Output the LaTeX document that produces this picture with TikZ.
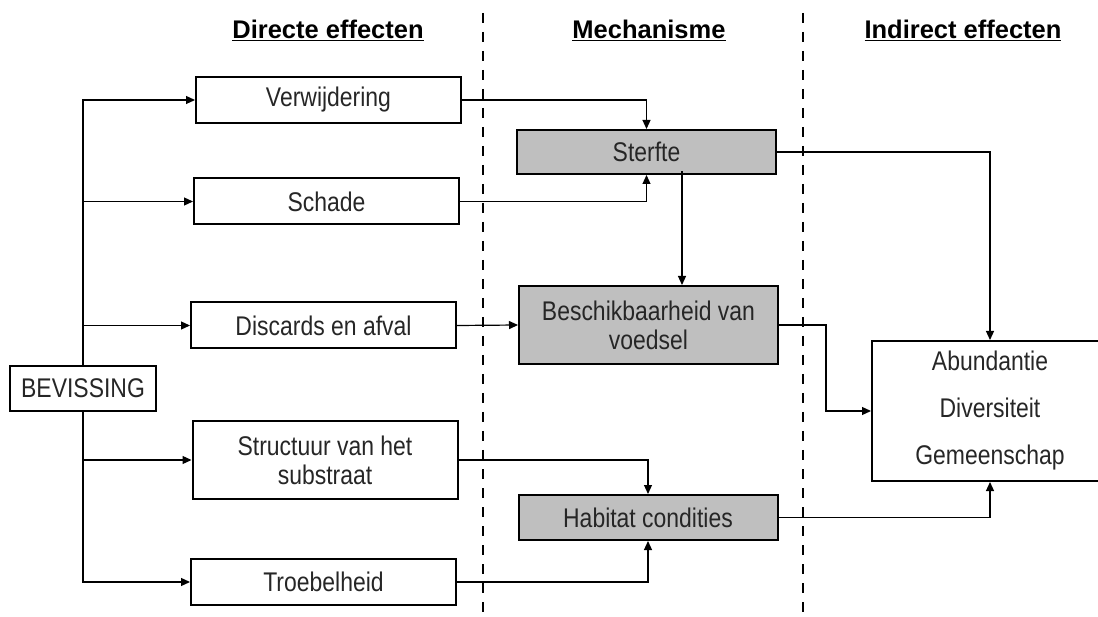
\documentclass[tikz,border=0pt]{standalone}
\usepackage{fontspec}
\setmainfont[FakeStretch=0.85]{Liberation Sans}
\newfontfamily\kopfont{Liberation Sans}
\usetikzlibrary{arrows.meta}

\tikzset{
  effect/.style={draw, line width=2pt, minimum width=265pt, minimum height=46pt,
    inner sep=0pt, align=center, text=black!85, font=\fontsize{27}{29}\selectfont},
  mech/.style={effect, fill=gray!50, minimum width=259pt},
  kop/.style={font=\kopfont\fontsize{25.5}{28}\selectfont\bfseries},
  divider/.style={line width=2.4pt, dash pattern=on 10pt off 9pt},
  link/.style={line width=1.2pt, -{Triangle[length=9pt,width=8pt]}}
}

\begin{document}
\begin{tikzpicture}[x=1pt,y=-1pt]
\useasboundingbox (0,0) rectangle (1098,617);

% headings and dividers
\node[kop] (hdir) at (328,30) {\underline{Directe effecten}};
\node[kop] (hmech) at (649,30) {\underline{Mechanisme}};
\node[kop] (hind) at (963,30) {\underline{Indirect effecten}};
\draw[divider] (483,13) -- (483,617);
\draw[divider] (803,13) -- (803,617);

% direct effects
\node[effect, minimum width=146pt, minimum height=45pt] (bev) at (83,388.5) {BEVISSING};
\node[effect] (verw) at (328.5,100) {Verwijdering};
\node[effect] (schade) at (326.5,201.5) {Schade};
\node[effect] (disc) at (323.5,325.5) {Discards en afval};
\node[effect, minimum height=78pt] (struct) at (325,460) {Structuur van het\\substraat};
\node[effect] (troeb) at (323.5,582) {Troebelheid};

% mechanism
\node[mech, minimum height=44pt] (sterf) at (646.5,152) {Sterfte};
\node[mech, minimum height=78pt] (besch) at (648.5,325) {Beschikbaarheid van\\voedsel};
\node[mech, minimum height=45pt] (habitat) at (648,517.5) {Habitat condities};

% indirect effects
\node[effect, minimum width=236pt, minimum height=140pt, font=\fontsize{27}{47}\selectfont] (abund) at (990,411)
  {Abundantie\\Diversiteit\\Gemeenschap};

\draw[link] (bev.north) |- (verw.west);
\draw[link] (bev.north) |- (schade.west);
\draw[link] (bev.north) |- (disc.west);
\draw[link] (bev.south) |- (struct.west);
\draw[link] (bev.south) |- (troeb.west);

\draw[link] (verw.east) -| (sterf.north);
\draw[link] (schade.east) -| (sterf.south);
\draw[link] (disc.east) -- (besch.west);
\draw[link] (struct.east) -| (habitat.north);
\draw[link] (troeb.east) -| (habitat.south);
\draw[link] ([xshift=35.5pt,yshift=4pt]sterf.south) -- ([xshift=33.5pt]besch.north);

\draw[link] (sterf.east) -| (abund.north);
\draw[link] (besch.east) -- ++(47,0) |- (abund.west);
\draw[link] (habitat.east) -| (abund.south);
\end{tikzpicture}
\end{document}
